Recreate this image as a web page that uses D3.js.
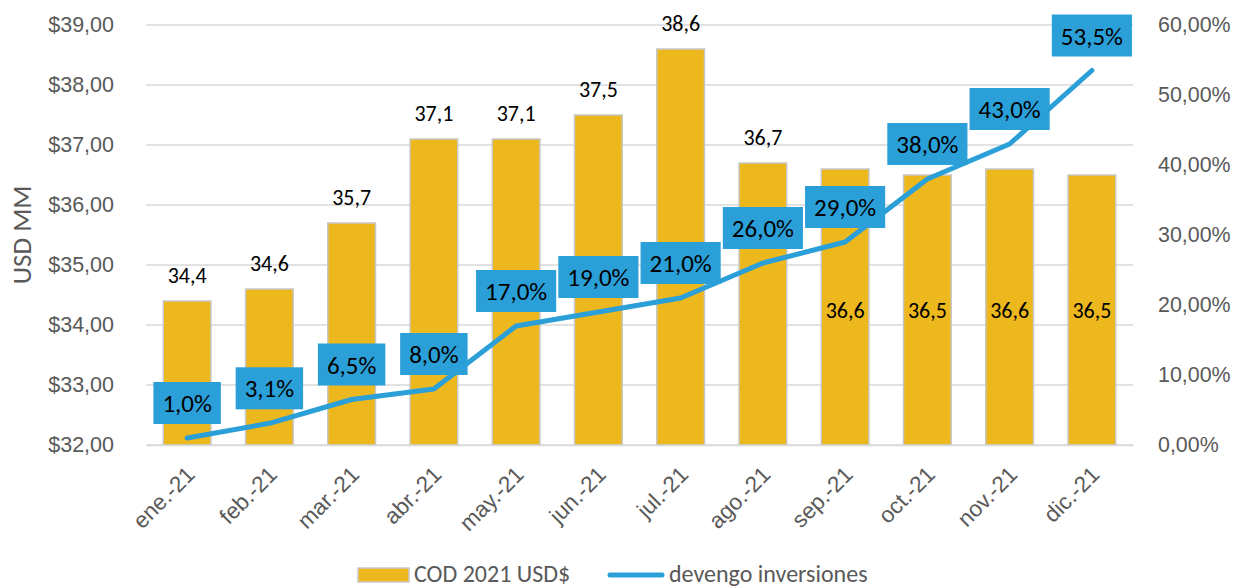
<!DOCTYPE html>
<html>
<head>
<meta charset="utf-8">
<script src="https://cdn.jsdelivr.net/npm/d3@7"></script>
<style>
  body { margin: 0; background: #fff; }
  svg { display: block; font-family: Carlito, Calibri, Lato, sans-serif; }
</style>
</head>
<body>
<svg id="chart"></svg>
<script>
const width = 1233;
const height = 588;

const months = ["ene.-21", "feb.-21", "mar.-21", "abr.-21", "may.-21", "jun.-21",
                "jul.-21", "ago.-21", "sep.-21", "oct.-21", "nov.-21", "dic.-21"];
const cod = [34.4, 34.6, 35.7, 37.1, 37.1, 37.5, 38.6, 36.7, 36.6, 36.5, 36.6, 36.5];
const devengo = [1.0, 3.1, 6.5, 8.0, 17.0, 19.0, 21.0, 26.0, 29.0, 38.0, 43.0, 53.5];
// last four bar labels sit inside the bar (moved down in the original)
const labelInside = [false, false, false, false, false, false, false, false, true, true, true, true];
const leftTicks = [32, 33, 34, 35, 36, 37, 38, 39];
const rightTicks = [0, 10, 20, 30, 40, 50, 60];

const barColor = "#EDB71E";
const lineColor = "#2A9FD8";
const textGrey = "#595959";
const fmt = v => v.toFixed(1).replace(".", ",");

const margin = { top: 25, right: 100, bottom: 143, left: 146 };

const svg = d3.select("#chart").attr("width", width).attr("height", height);

const x = d3.scaleBand()
    .domain(months)
    .range([margin.left, width - margin.right])
    .paddingInner(0.42)
    .paddingOuter(0.21);

const yLeft = d3.scaleLinear().domain([32, 39]).range([height - margin.bottom, margin.top]);
const yRight = d3.scaleLinear().domain([0, 60]).range([height - margin.bottom, margin.top]);

// gridlines
svg.append("g")
    .selectAll("line")
    .data(leftTicks)
    .join("line")
    .attr("x1", margin.left)
    .attr("x2", width - margin.right)
    .attr("y1", d => yLeft(d))
    .attr("y2", d => yLeft(d))
    .attr("stroke", "#d9d9d9")
    .attr("stroke-width", 1.3);

// left axis
const leftAxis = svg.append("g")
    .attr("transform", `translate(${margin.left - 29},0)`)
    .call(d3.axisLeft(yLeft).tickValues(leftTicks).tickSize(0).tickFormat(d => "$" + d.toFixed(2).replace(".", ",")));
leftAxis.select(".domain").remove();
leftAxis.selectAll("text").attr("fill", textGrey).attr("font-size", 21.5).attr("font-family", null).attr("dx", 0);

// right axis
const rightAxis = svg.append("g")
    .attr("transform", `translate(${width - margin.right + 22},0)`)
    .call(d3.axisRight(yRight).tickValues(rightTicks).tickSize(0).tickFormat(d => d.toFixed(2).replace(".", ",") + "%"));
rightAxis.select(".domain").remove();
rightAxis.selectAll("text").attr("fill", textGrey).attr("font-size", 21.4).attr("font-family", null);

// y title
svg.append("text")
    .attr("transform", `translate(31,${(yLeft(32) + yLeft(39)) / 2})`+ " rotate(-90)")
    .attr("text-anchor", "middle")
    .attr("fill", textGrey)
    .attr("font-size", 27)
    .text("USD MM");

// bars
svg.append("g")
    .selectAll("rect")
    .data(cod)
    .join("rect")
    .attr("x", (d, i) => x(months[i]))
    .attr("width", x.bandwidth())
    .attr("y", d => yLeft(d))
    .attr("height", d => yLeft(32) - yLeft(d))
    .attr("fill", barColor)
    .attr("stroke", "#c8c8c8")
    .attr("stroke-width", 1.5);

// x axis
const xAxis = svg.append("g")
    .attr("transform", `translate(0,${yLeft(32)})`)
    .call(d3.axisBottom(x).tickSize(0).tickFormat(d => d));
xAxis.select(".domain").attr("stroke", "#d9d9d9").attr("stroke-width", 1.3);
xAxis.selectAll("text")
    .attr("fill", textGrey)
    .attr("font-size", 22.5)
    .attr("font-family", null)
    .attr("text-anchor", "end")
    .attr("dy", null)
    .attr("y", 0)
    .attr("transform", "translate(9,31) rotate(-45)");

// bar labels
svg.append("g")
    .selectAll("text")
    .data(cod)
    .join("text")
    .attr("x", (d, i) => x(months[i]) + x.bandwidth() / 2)
    .attr("y", (d, i) => labelInside[i] ? yLeft(34.25) + 8 : yLeft(d) - 18)
    .attr("text-anchor", "middle")
    .attr("font-size", 22)
    .attr("fill", "#000")
    .text(d => fmt(d));

// line
const line = d3.line()
    .x((d, i) => x(months[i]) + x.bandwidth() / 2)
    .y(d => yRight(d));

svg.append("path")
    .datum(devengo)
    .attr("d", line)
    .attr("fill", "none")
    .attr("stroke", lineColor)
    .attr("stroke-width", 5)
    .attr("stroke-linejoin", "round")
    .attr("stroke-linecap", "round");

// line labels in boxes
const boxes = svg.append("g")
    .selectAll("g")
    .data(devengo)
    .join("g")
    .attr("transform", (d, i) => `translate(${x(months[i]) + x.bandwidth() / 2},${yRight(d) - 35})`);

boxes.append("rect").attr("fill", lineColor);
boxes.append("text")
    .attr("text-anchor", "middle")
    .attr("y", 9)
    .attr("font-size", 25)
    .attr("fill", "#000")
    .text(d => fmt(d) + "%");
boxes.each(function() {
    const g = d3.select(this);
    const w = g.select("text").node().getComputedTextLength() + 18;
    g.select("rect").attr("x", -w / 2).attr("y", -21).attr("width", w).attr("height", 42);
});

// legend
const legend = svg.append("g").attr("transform", "translate(0,575)");
legend.append("rect")
    .attr("x", 358).attr("y", -7).attr("width", 51).attr("height", 14)
    .attr("fill", barColor).attr("stroke", "#c8c8c8").attr("stroke-width", 1.5);
legend.append("text")
    .attr("x", 414).attr("y", 7)
    .attr("font-size", 24).attr("fill", textGrey)
    .text("COD 2021 USD$");
legend.append("line")
    .attr("x1", 610).attr("x2", 662).attr("y1", 0).attr("y2", 0)
    .attr("stroke", lineColor).attr("stroke-width", 5).attr("stroke-linecap", "round");
legend.append("text")
    .attr("x", 669).attr("y", 7)
    .attr("font-size", 24).attr("fill", textGrey)
    .text("devengo inversiones");
</script>
</body>
</html>
